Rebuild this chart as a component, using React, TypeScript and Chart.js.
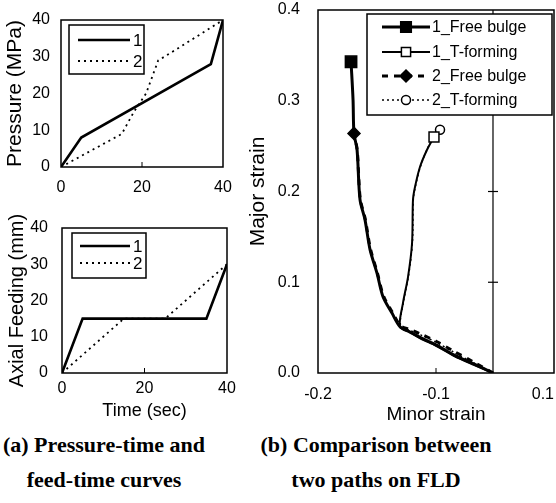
import React, { useEffect, useRef } from "react";
import { Chart, registerables } from "chart.js";

Chart.register(...registerables);

// ---------------- Data ----------------
// (a) top: pressure vs time
const pressureTime1 = [0, 5, 37, 40];
const pressureMPa1 = [0, 8, 28, 40];
const pressureTime2 = [0, 15, 18, 21, 24, 27, 40];
const pressureMPa2 = [0, 9, 15, 20, 29, 31, 40];

// (a) bottom: axial feeding vs time
const feedTime1 = [0, 5, 35, 40];
const feedMM1 = [0, 15, 15, 30];
const feedTime2 = [0, 15, 25, 40];
const feedMM2 = [0, 15, 15, 30];

const pathLabels = ["1", "2"];

// (b) strain paths on the FLD (minor strain, major strain)
const fb1Minor = [-0.0517, -0.068, -0.085, -0.1, -0.113, -0.122, -0.1305, -0.1373, -0.1449, -0.15, -0.1559, -0.1602, -0.1644, -0.1669, -0.1695, -0.1703, -0.172];
const fb1Major = [0, 0.01, 0.02, 0.031, 0.039, 0.045, 0.051, 0.066, 0.084, 0.11, 0.136, 0.169, 0.191, 0.246, 0.264, 0.301, 0.343];
const tf1Minor = [-0.0517, -0.068, -0.085, -0.1, -0.113, -0.122, -0.1305, -0.128, -0.1237, -0.1203, -0.1195, -0.1178, -0.1136, -0.1076, -0.1017];
const tf1Major = [0, 0.009, 0.019, 0.03, 0.038, 0.045, 0.051, 0.077, 0.106, 0.143, 0.191, 0.205, 0.227, 0.246, 0.26];
const fb2Minor = [-0.0517, -0.068, -0.085, -0.1, -0.113, -0.122, -0.13, -0.137, -0.1445, -0.1498, -0.1556, -0.16, -0.1642, -0.1668, -0.1695];
const fb2Major = [0, 0.012, 0.024, 0.035, 0.043, 0.048, 0.052, 0.067, 0.085, 0.111, 0.137, 0.17, 0.192, 0.246, 0.264];
const tf2Minor = [-0.0517, -0.068, -0.085, -0.1, -0.113, -0.122, -0.13, -0.1276, -0.1233, -0.12, -0.1192, -0.1172, -0.1128, -0.1066, -0.1017, -0.0966];
const tf2Major = [0, 0.011, 0.023, 0.034, 0.042, 0.047, 0.052, 0.078, 0.107, 0.144, 0.192, 0.207, 0.229, 0.249, 0.26, 0.268];

const fldSeriesLabels = ["1_Free bulge", "1_T-forming", "2_Free bulge", "2_T-forming"];
const fldMinorTickLabels = ["-0.2", "-0.1", "0.1"];
const fldRefLineMinor = -0.0517;
const fldRefLineTicks = [0.1, 0.2, 0.3];

// ---------------- Styling helpers ----------------
const SANS = "'Liberation Sans', Arial, sans-serif";

const zip = (xs: number[], ys: number[]) => xs.map((x, i) => ({ x, y: ys[i] }));
const lastOnly = (n: number, r: number) => Array.from({ length: n }, (_, i) => (i === n - 1 ? r : 0));

const fixScale = (size: { width?: number; height?: number }) => (s: any) => {
  if (size.width !== undefined) s.width = size.width;
  if (size.height !== undefined) s.height = size.height;
  s.paddingLeft = 0;
  s.paddingRight = 0;
  s.paddingTop = 0;
  s.paddingBottom = 0;
};

function drawMarker(ctx: CanvasRenderingContext2D, style: string, x: number, y: number, r: number, fill: string, lw: number) {
  ctx.beginPath();
  if (style === "rect") {
    const s = r * Math.SQRT1_2;
    ctx.rect(x - s, y - s, 2 * s, 2 * s);
  } else if (style === "rectRot") {
    ctx.moveTo(x, y - r);
    ctx.lineTo(x + r, y);
    ctx.lineTo(x, y + r);
    ctx.lineTo(x - r, y);
    ctx.closePath();
  } else {
    ctx.arc(x, y, r, 0, Math.PI * 2);
  }
  ctx.setLineDash([]);
  ctx.fillStyle = fill;
  ctx.fill();
  ctx.lineWidth = lw;
  ctx.strokeStyle = "#000";
  ctx.stroke();
}

const framePlugin = {
  id: "frame",
  beforeDatasetsDraw(chart: any, _a: any, opts: any) {
    if (opts.refX === undefined) return;
    const { ctx, chartArea: a, scales } = chart;
    const px = scales.x.getPixelForValue(opts.refX);
    ctx.save();
    ctx.strokeStyle = "#000";
    ctx.lineWidth = 1.2;
    ctx.beginPath();
    ctx.moveTo(px, a.top);
    ctx.lineTo(px, a.bottom);
    ctx.stroke();
    (opts.refTicks || []).forEach((v: number) => {
      const py = scales.y.getPixelForValue(v);
      ctx.beginPath();
      ctx.moveTo(px - 5, py);
      ctx.lineTo(px + 5, py);
      ctx.stroke();
    });
    ctx.restore();
  },
  afterDatasetsDraw(chart: any) {
    const { ctx, chartArea: a, scales } = chart;
    ctx.save();
    ctx.strokeStyle = "#000";
    ctx.lineWidth = 1.5;
    ctx.setLineDash([]);
    ctx.strokeRect(a.left, a.top, a.right - a.left, a.bottom - a.top);
    ctx.lineWidth = 1;
    scales.x.ticks.forEach((t: any) => {
      const px = scales.x.getPixelForValue(t.value);
      if (px > a.left + 3 && px < a.right - 3) {
        ctx.beginPath();
        ctx.moveTo(px, a.bottom);
        ctx.lineTo(px, a.bottom - 5);
        ctx.stroke();
      }
    });
    ctx.restore();
  },
};

const boxLegendPlugin = {
  id: "boxLegend",
  afterDraw(chart: any, _a: any, opts: any) {
    if (!opts || !opts.box) return;
    const ctx: CanvasRenderingContext2D = chart.ctx;
    const { box, rows, lineFrom, lineTo, textX, font } = opts;
    ctx.save();
    ctx.fillStyle = "#fff";
    ctx.fillRect(box.x, box.y, box.w, box.h);
    ctx.strokeStyle = "#000";
    ctx.lineWidth = 1.5;
    ctx.setLineDash([]);
    ctx.strokeRect(box.x, box.y, box.w, box.h);
    chart.data.datasets.forEach((ds: any, i: number) => {
      const y = rows[i];
      ctx.beginPath();
      ctx.setLineDash(ds.borderDash || []);
      ctx.lineWidth = ds.borderWidth;
      ctx.strokeStyle = "#000";
      ctx.moveTo(lineFrom, y);
      ctx.lineTo(lineTo, y);
      ctx.stroke();
      if (ds.legendMarker) {
        const m = ds.legendMarker;
        drawMarker(ctx, m.style, (lineFrom + lineTo) / 2, y, m.r, m.fill, 1.5);
      }
      ctx.setLineDash([]);
      ctx.fillStyle = "#000";
      ctx.font = font;
      ctx.textAlign = "left";
      ctx.textBaseline = "middle";
      ctx.fillText(ds.label, textX, y + 1);
    });
    ctx.restore();
  },
};

const tickFont = { family: SANS, size: 16 };

function timeChartConfig(opts: any) {
  return {
    type: "line" as const,
    data: {
      datasets: [
        { label: pathLabels[0], data: zip(opts.t1, opts.v1), borderColor: "#000", borderWidth: 2.6, pointRadius: 0, tension: 0, fill: false },
        { label: pathLabels[1], data: zip(opts.t2, opts.v2), borderColor: "#000", borderWidth: 1.8, borderDash: [2, 4], pointRadius: 0, tension: 0, fill: false },
      ],
    },
    options: {
      animation: false as const,
      responsive: false,
      maintainAspectRatio: false,
      layout: { autoPadding: false, padding: { top: opts.padTop, right: opts.padRight, left: 0, bottom: 0 } },
      plugins: {
        legend: { display: false },
        tooltip: { enabled: false },
        boxLegend: opts.legend,
        frame: {},
      },
      scales: {
        x: {
          type: "linear" as const,
          min: 0,
          max: 40,
          ticks: { stepSize: 20, color: "#000", font: tickFont, padding: opts.xPad, maxRotation: 0 },
          grid: { display: false, drawTicks: false },
          border: { display: false },
          title: opts.xTitle
            ? { display: true, text: opts.xTitle, color: "#000", font: { family: SANS, size: 18 }, padding: { top: 0, bottom: 0 } }
            : { display: false },
          afterFit: fixScale({ height: opts.xHeight }),
        },
        y: {
          min: 0,
          max: 40,
          ticks: { stepSize: 10, color: "#000", font: tickFont, padding: opts.yPad },
          grid: { display: false, drawTicks: false },
          border: { display: false },
          title: { display: true, text: opts.yTitle, color: "#000", font: { family: SANS, size: opts.yTitleSize }, padding: { top: opts.yTitlePad, bottom: 0 } },
          afterFit: fixScale({ width: opts.yWidth }),
        },
      },
    },
    plugins: [framePlugin, boxLegendPlugin],
  };
}

function fldConfig() {
  const series = [
    { minor: fb1Minor, major: fb1Major, width: 3, dash: [] as number[], style: "rect", r: 8, fill: "#000", lr: 7.5 },
    { minor: tf1Minor, major: tf1Major, width: 2, dash: [] as number[], style: "rect", r: 7, fill: "#fff", lr: 6.5 },
    { minor: fb2Minor, major: fb2Major, width: 3, dash: [6, 6], style: "rectRot", r: 6, fill: "#000", lr: 6 },
    { minor: tf2Minor, major: tf2Major, width: 1.5, dash: [2, 3], style: "circle", r: 4.5, fill: "#fff", lr: 4.5 },
  ];
  return {
    type: "line" as const,
    data: {
      datasets: series.map((s, i) => ({
        label: fldSeriesLabels[i],
        data: zip(s.minor, s.major),
        borderColor: "#000",
        borderWidth: s.width,
        borderDash: s.dash,
        tension: 0.3,
        fill: false,
        pointStyle: s.style,
        pointRadius: lastOnly(s.minor.length, s.r),
        pointBackgroundColor: s.fill,
        pointBorderColor: "#000",
        pointBorderWidth: 1.5,
        legendMarker: { style: s.style, r: s.lr, fill: s.fill },
      })),
    },
    options: {
      animation: false as const,
      responsive: false,
      maintainAspectRatio: false,
      layout: { autoPadding: false, padding: { top: 10, right: 2, left: 0, bottom: 0 } },
      plugins: {
        legend: { display: false },
        tooltip: { enabled: false },
        frame: { refX: fldRefLineMinor, refTicks: fldRefLineTicks },
        boxLegend: {
          box: { x: 127, y: 14, w: 185, h: 101 },
          rows: [27, 52, 76, 100],
          lineFrom: 142,
          lineTo: 190,
          textX: 192,
          font: `16px ${SANS}`,
        },
      },
      scales: {
        x: {
          type: "linear" as const,
          min: -0.2,
          max: 0,
          ticks: {
            stepSize: 0.1,
            color: "#000",
            font: tickFont,
            padding: 12,
            maxRotation: 0,
            callback: (_v: any, i: number, ticks: any[]) =>
              i === ticks.length - 1 ? fldMinorTickLabels[i] + "\u00a0\u00a0\u00a0\u00a0\u00a0" : fldMinorTickLabels[i],
          },
          grid: { display: false, drawTicks: false },
          border: { display: false },
          title: { display: true, text: "Minor strain", color: "#000", font: { family: SANS, size: 19 }, padding: { top: 0, bottom: 0 } },
          afterFit: fixScale({ height: 53 }),
        },
        y: {
          min: 0,
          max: 0.4,
          ticks: { stepSize: 0.1, color: "#000", font: tickFont, padding: 18, callback: (v: any) => Number(v).toFixed(1) },
          grid: { display: false, drawTicks: false },
          border: { display: false },
          title: { display: true, text: "Major strain", color: "#000", font: { family: SANS, size: 21 }, padding: { top: 6, bottom: 0 } },
          afterFit: fixScale({ width: 78 }),
        },
      },
    },
    plugins: [framePlugin, boxLegendPlugin],
  };
}

export default function App() {
  const refA = useRef<HTMLCanvasElement>(null);
  const refB = useRef<HTMLCanvasElement>(null);
  const refC = useRef<HTMLCanvasElement>(null);

  useEffect(() => {
    const a = new Chart(
      refA.current as HTMLCanvasElement,
      timeChartConfig({
        t1: pressureTime1, v1: pressureMPa1, t2: pressureTime2, v2: pressureMPa2,
        padTop: 20, padRight: 17, xHeight: 33, yWidth: 61, xPad: 11, yPad: 11,
        yTitle: "Pressure (MPa)", yTitleSize: 21, yTitlePad: 3,
        legend: { box: { x: 69, y: 25, w: 75, h: 49 }, rows: [40, 61], lineFrom: 78, lineTo: 130, textX: 133, font: `17px ${SANS}` },
      }) as any
    );
    const b = new Chart(
      refB.current as HTMLCanvasElement,
      timeChartConfig({
        t1: feedTime1, v1: feedMM1, t2: feedTime2, v2: feedMM2,
        padTop: 28, padRight: 13, xHeight: 49, yWidth: 62, xPad: 6, yPad: 14,
        yTitle: "Axial Feeding (mm)", yTitleSize: 20, yTitlePad: 5, xTitle: "Time (sec)",
        legend: { box: { x: 72, y: 33, w: 74, h: 45 }, rows: [46, 63], lineFrom: 80, lineTo: 130, textX: 133, font: `17px ${SANS}` },
      }) as any
    );
    const c = new Chart(refC.current as HTMLCanvasElement, fldConfig() as any);
    return () => {
      a.destroy();
      b.destroy();
      c.destroy();
    };
  }, []);

  const caption: React.CSSProperties = {
    position: "absolute",
    fontFamily: "'Liberation Serif', 'Times New Roman', serif",
    fontWeight: "bold",
    fontSize: 22,
    lineHeight: "35px",
    textAlign: "center",
    color: "#000",
    whiteSpace: "nowrap",
  };

  return (
    <div style={{ position: "absolute", left: 0, top: 0, width: 556, height: 503, background: "#fff", overflow: "hidden" }}>
      <canvas ref={refA} width={240} height={200} style={{ position: "absolute", left: 0, top: 0 }} />
      <canvas ref={refB} width={240} height={222} style={{ position: "absolute", left: 0, top: 200 }} />
      <canvas ref={refC} width={316} height={426} style={{ position: "absolute", left: 240, top: 0 }} />
      <div style={{ ...caption, left: 0, top: 427, width: 208 }}>
        (a) Pressure-time and
        <br />
        feed-time curves
      </div>
      <div style={{ ...caption, left: 238, top: 427, width: 276 }}>
        (b) Comparison between
        <br />
        two paths on FLD
      </div>
    </div>
  );
}
